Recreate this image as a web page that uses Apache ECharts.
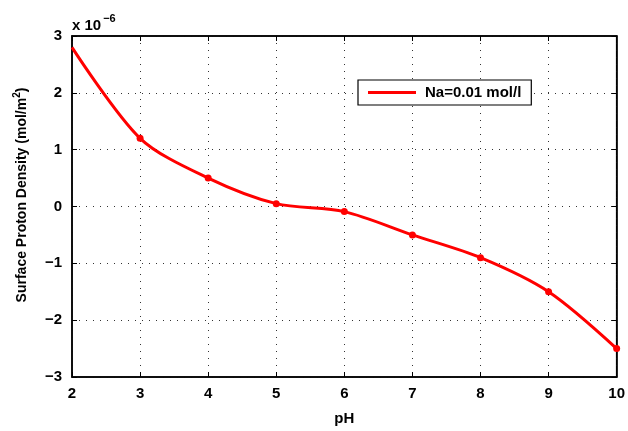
<!DOCTYPE html>
<html>
<head>
<meta charset="utf-8">
<script src="https://cdn.jsdelivr.net/npm/echarts@6/dist/echarts.min.js"></script>
<style>
  html, body { margin: 0; padding: 0; background: #fff; }
  #chart { width: 628px; height: 431px; }
</style>
</head>
<body>
<div id="chart"></div>
<script>
  // pH values and surface proton density (x 1e-6 mol/m^2)
  const phValues = [2, 3, 4, 5, 6, 7, 8, 9, 10];
  const density = [2.8, 1.2, 0.5, 0.05, -0.09, -0.5, -0.9, -1.5, -2.5];
  const seriesName = "Na=0.01 mol/l";

  const font = "Liberation Sans, Arial, Helvetica, sans-serif";
  const minus = (v) => String(v).replace("-", "\u2212");

  const chart = echarts.init(document.getElementById("chart"));

  // top / right axes only add the inner ticks of the box
  const frameAxis = (pos, min, max) => ({
    type: "value",
    position: pos,
    min: min,
    max: max,
    interval: 1,
    axisLine: { show: true, onZero: false, lineStyle: { color: "#000", width: 1.5 } },
    axisTick: { show: true, inside: true, length: 5, lineStyle: { color: "#000" } },
    axisLabel: { show: false },
    splitLine: { show: false },
  });

  const options = {
    animation: false,
    textStyle: { fontFamily: font },
    grid: {
      left: 72, right: 11, top: 36, bottom: 51,
      show: true, borderColor: "#000", borderWidth: 1.5, backgroundColor: "#fff",
    },
    graphic: [
      {
        type: "text",
        left: 72,
        top: 13,
        style: {
          text: "{a|x 10}{b|\u22126}",
          rich: {
            a: { fontSize: 15, fontWeight: "bold", fontFamily: font, fill: "#000", padding: [8, 0, 0, 0] },
            b: { fontSize: 11, fontWeight: "bold", fontFamily: font, fill: "#000", padding: [0, 0, 6, 2] },
          },
        },
      },
      {
        type: "text",
        x: 22,
        y: 195,
        rotation: Math.PI / 2,
        style: {
          text: "Surface Proton Density (mol/m{sup|2})",
          align: "center",
          verticalAlign: "middle",
          font: "bold 14px " + font,
          fill: "#000",
          rich: {
            sup: { fontSize: 10, fontWeight: "bold", fontFamily: font, fill: "#000", padding: [0, 0, 9, 0] },
          },
        },
      },
    ],
    legend: {
      left: 358,
      top: 80,
      padding: [5, 10, 5, 10],
      borderColor: "#000",
      borderWidth: 1.2,
      borderRadius: 0,
      backgroundColor: "#fff",
      icon: "rect",
      itemWidth: 48,
      itemHeight: 3,
      itemGap: 0,
      textStyle: { fontSize: 15, fontWeight: "bold", color: "#000", fontFamily: font, padding: [0, 0, 0, 4] },
      data: [seriesName],
    },
    xAxis: [
      {
        type: "value",
        min: 2,
        max: 10,
        interval: 1,
        name: "pH",
        nameLocation: "middle",
        nameGap: 34,
        nameTextStyle: { fontSize: 15, fontWeight: "bold", color: "#000", fontFamily: font },
        axisLine: { show: true, onZero: false, lineStyle: { color: "#000", width: 1.5 } },
        axisTick: { inside: true, length: 5, lineStyle: { color: "#000" } },
        axisLabel: { fontSize: 15, fontWeight: "bold", color: "#000", margin: 9, fontFamily: font },
        splitLine: { show: true, lineStyle: { color: "#333", type: [1, 6], width: 1 } },
      },
      frameAxis("top", 2, 10),
    ],
    yAxis: [
      {
        type: "value",
        min: -3,
        max: 3,
        interval: 1,
        axisLine: { show: true, onZero: false, lineStyle: { color: "#000", width: 1.5 } },
        axisTick: { inside: true, length: 5, lineStyle: { color: "#000" } },
        axisLabel: { fontSize: 15, fontWeight: "bold", color: "#000", margin: 10, fontFamily: font, formatter: minus },
        splitLine: { show: true, lineStyle: { color: "#333", type: [1, 6], width: 1 } },
      },
      frameAxis("right", -3, 3),
    ],
    series: [
      {
        name: seriesName,
        type: "line",
        smooth: 0.3,
        symbol: "circle",
        symbolSize: 7,
        color: "#ff0000",
        lineStyle: { color: "#ff0000", width: 3 },
        itemStyle: { color: "#ff0000" },
        data: phValues.map((x, i) =>
          i === 0 ? { value: [x, density[i]], symbol: "none" } : [x, density[i]]
        ),
      },
    ],
  };

  chart.setOption(options);
</script>
</body>
</html>
